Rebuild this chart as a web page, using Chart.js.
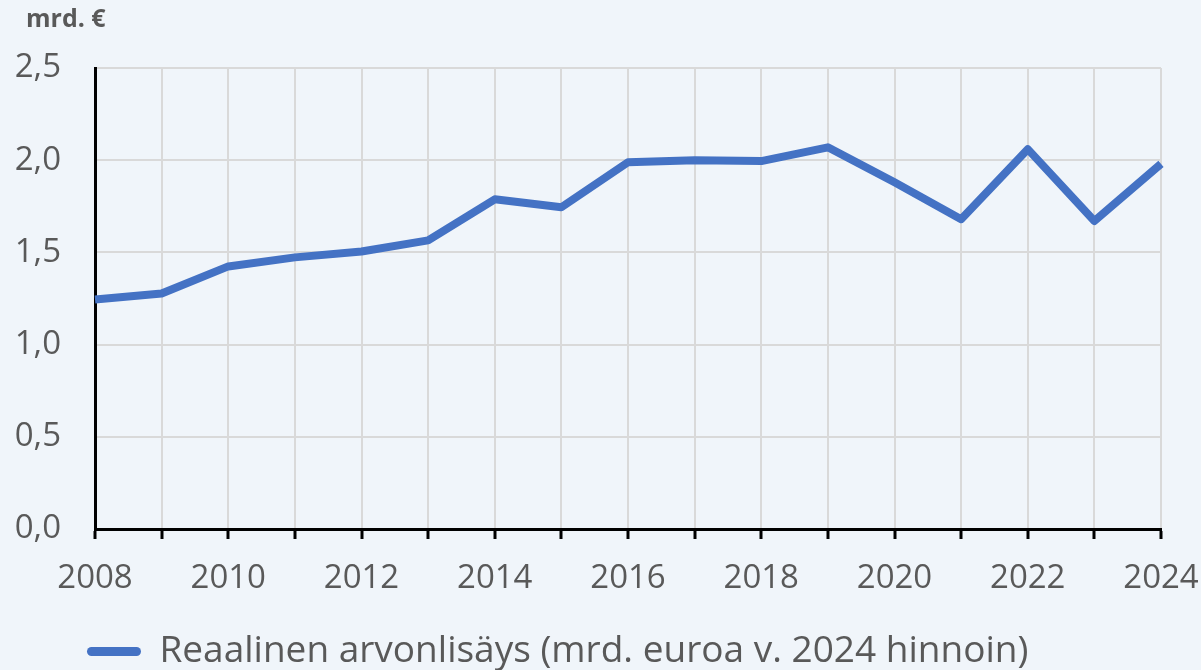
<!DOCTYPE html>
<html>
<head>
<meta charset="utf-8">
<script src="https://cdn.jsdelivr.net/npm/chart.js@4"></script>
<style>
  html, body { margin: 0; padding: 0; background: #f0f5fa; }
  #wrap { width: 1201px; height: 670px; position: relative; }
</style>
</head>
<body>
<div id="wrap"><canvas id="chart" width="1201" height="670"></canvas></div>
<script>
// Data
const years = [2008, 2009, 2010, 2011, 2012, 2013, 2014, 2015, 2016,
               2017, 2018, 2019, 2020, 2021, 2022, 2023, 2024];
const valueAdded = [1.245, 1.277, 1.424, 1.473, 1.505, 1.565, 1.788, 1.745, 1.989,
                    2.0, 1.995, 2.07, 1.88, 1.68, 2.06, 1.67, 1.98];
const seriesLabel = 'Reaalinen arvonlisäys (mrd. euroa v. 2024 hinnoin)';
const unitLabel = 'mrd. €';

const textColor = '#595959';
const fontFamily = '"Open Sans", sans-serif';

// unit text above the y axis
const unitPlugin = {
    id: 'unitLabel',
    afterDraw(chart) {
        const ctx = chart.ctx;
        ctx.save();
        ctx.font = 'bold 25px ' + fontFamily;
        ctx.fillStyle = textColor;
        ctx.textBaseline = 'middle';
        ctx.fillText(unitLabel, 26, 20);
        ctx.restore();
    }
};

// move legend so it sits where the reference one does
const legendShift = {
    id: 'legendShift',
    afterLayout(chart) {
        chart.legend.left = 77;
        chart.legend.top += 10;
        chart.legend.bottom += 10;
    }
};

new Chart(document.getElementById('chart'), {
    type: 'line',
    data: {
        datasets: [{
            label: seriesLabel,
            data: years.map((y, i) => ({ x: y, y: valueAdded[i] })),
            borderColor: '#4472c4',
            backgroundColor: '#4472c4',
            borderWidth: 8,
            pointRadius: 0,
            tension: 0,
            borderJoinStyle: 'round',
            clip: false
        }]
    },
    options: {
        responsive: false,
        animation: false,
        layout: {
            padding: { top: 68, left: 0, right: 40, bottom: 0 }
        },
        scales: {
            x: {
                type: 'linear',
                min: 2008,
                max: 2024,
                ticks: {
                    stepSize: 1,
                    autoSkip: false,
                    maxRotation: 0,
                    color: textColor,
                    font: { family: fontFamily, size: 33 },
                    padding: 20,
                    callback: v => (v % 2 === 0 ? String(v) : '')
                },
                grid: {
                    color: '#d9d9d9',
                    lineWidth: 2,
                    drawTicks: true,
                    tickLength: 10,
                    tickColor: '#000000',
                    tickWidth: 3
                },
                border: { color: '#000000', width: 3 },
                afterFit(scale) {
                    scale.height = 84;
                    scale.paddingLeft = 0;
                    scale.paddingRight = 0;
                }
            },
            y: {
                min: 0,
                max: 2.5,
                ticks: {
                    stepSize: 0.5,
                    color: textColor,
                    font: { family: fontFamily, size: 33 },
                    padding: 34,
                    callback: v => v.toFixed(1).replace('.', ',')
                },
                grid: {
                    color: '#d9d9d9',
                    lineWidth: 2,
                    drawTicks: false
                },
                border: { color: '#000000', width: 3 },
                afterFit(scale) { scale.width = 95; }
            }
        },
        plugins: {
            legend: {
                position: 'bottom',
                align: 'start',
                labels: {
                    color: textColor,
                    font: { family: fontFamily, size: 37 },
                    boxWidth: 54,
                    boxHeight: 9,
                    padding: 10,
                    useBorderRadius: true,
                    borderRadius: 4.5,
                    generateLabels(chart) {
                        const ds = chart.data.datasets[0];
                        return [{
                            text: ds.label,
                            fillStyle: ds.borderColor,
                            strokeStyle: ds.borderColor,
                            lineWidth: 0,
                            fontColor: textColor,
                            borderRadius: 4.5,
                            datasetIndex: 0
                        }];
                    }
                }
            },
            tooltip: { enabled: false }
        }
    },
    plugins: [unitPlugin, legendShift]
});
</script>
</body>
</html>
